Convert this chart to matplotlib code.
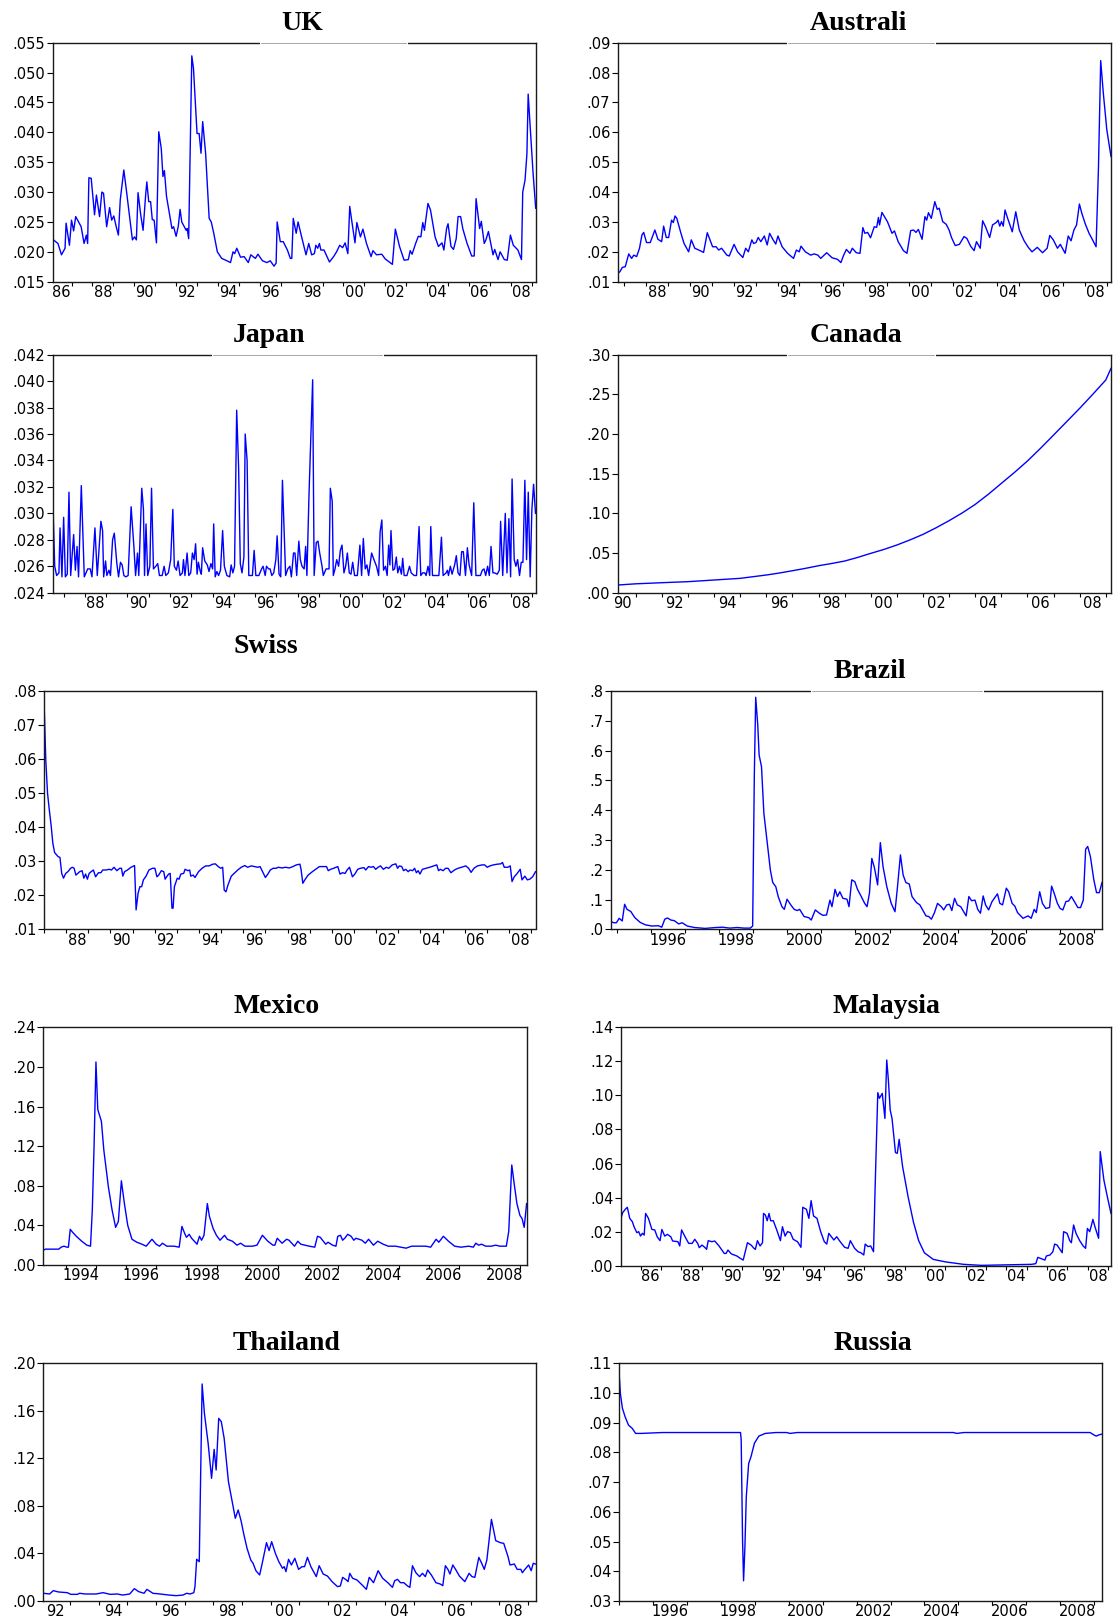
import numpy as np
import matplotlib
matplotlib.use("Agg")
from matplotlib import pyplot as plt

W, H = 1113, 1622

# ---- data (decimal year, value) ----
uk_t = [1986.10, 1986.35, 1986.52, 1986.69, 1986.74, 1986.90, 1987.00, 1987.10, 1987.20, 1987.46,
        1987.60, 1987.71, 1987.77, 1987.83, 1987.94, 1988.10, 1988.19, 1988.34, 1988.45, 1988.53,
        1988.68, 1988.82, 1988.92, 1989.02, 1989.13, 1989.24, 1989.33, 1989.50, 1989.64, 1989.91,
        1990.01, 1990.10, 1990.18, 1990.30, 1990.42, 1990.55, 1990.60, 1990.69, 1990.78, 1990.86,
        1990.95, 1991.06, 1991.17, 1991.29, 1991.37, 1991.44, 1991.54, 1991.68, 1991.80, 1991.88,
        1992.00, 1992.10, 1992.19, 1992.27, 1992.39, 1992.48, 1992.53, 1992.60, 1992.75, 1992.83,
        1993.00, 1993.10, 1993.19, 1993.27, 1993.41, 1993.58, 1993.68, 1993.80, 1993.97, 1994.18,
        1994.43, 1994.60, 1994.72, 1994.80, 1994.90, 1995.08, 1995.25, 1995.45, 1995.57, 1995.79,
        1995.91, 1996.13, 1996.34, 1996.50, 1996.68, 1996.78, 1996.83, 1996.98, 1997.12, 1997.32,
        1997.46, 1997.53, 1997.60, 1997.74, 1997.83, 1998.00, 1998.21, 1998.34, 1998.48, 1998.61,
        1998.68, 1998.77, 1998.85, 1998.92, 1999.07, 1999.33, 1999.53, 1999.67, 1999.82, 1999.96,
        2000.08, 2000.21, 2000.30, 2000.38, 2000.55, 2000.64, 2000.81, 2000.93, 2001.10, 2001.32,
        2001.41, 2001.58, 2001.83, 2002.00, 2002.34, 2002.48, 2002.68, 2002.90, 2003.10, 2003.19,
        2003.28, 2003.45, 2003.58, 2003.70, 2003.79, 2003.87, 2004.04, 2004.16, 2004.38, 2004.54,
        2004.71, 2004.80, 2004.93, 2005.00, 2005.14, 2005.26, 2005.39, 2005.48, 2005.60, 2005.71,
        2005.91, 2006.13, 2006.25, 2006.34, 2006.51, 2006.59, 2006.73, 2006.81, 2006.93, 2007.15,
        2007.23, 2007.39, 2007.49, 2007.69, 2007.83, 2007.98, 2008.12, 2008.34, 2008.51, 2008.57,
        2008.68, 2008.77, 2008.83, 2009.06, 2009.19]
uk_v = [.0221, .0214, .0195, .0206, .0248, .0211, .0253, .0235, .0259, .0242,
        .0214, .0228, .0214, .0324, .0323, .0262, .0295, .0259, .0300, .0298,
        .0242, .0274, .0253, .0260, .0243, .0228, .0287, .0337, .0298, .0220,
        .0225, .0220, .0299, .0264, .0236, .0298, .0317, .0284, .0284, .0254,
        .0253, .0215, .0401, .0373, .0326, .0336, .0293, .0264, .0239, .0242,
        .0226, .0242, .0271, .0250, .0242, .0236, .0239, .0222, .0528, .0507,
        .0398, .0398, .0365, .0418, .0365, .0256, .0250, .0231, .0200, .0189,
        .0185, .0182, .0200, .0197, .0206, .0191, .0192, .0182, .0195, .0189,
        .0196, .0185, .0182, .0185, .0176, .0181, .0250, .0217, .0217, .0203,
        .0189, .0189, .0256, .0231, .0250, .0225, .0195, .0214, .0195, .0197,
        .0211, .0206, .0214, .0203, .0203, .0183, .0192, .0200, .0211, .0207,
        .0215, .0197, .0276, .0256, .0215, .0249, .0225, .0238, .0214, .0192,
        .0202, .0195, .0196, .0188, .0179, .0238, .0209, .0186, .0187, .0202,
        .0196, .0214, .0226, .0225, .0249, .0236, .0281, .0270, .0225, .0209,
        .0215, .0203, .0239, .0247, .0209, .0204, .0222, .0259, .0259, .0238,
        .0214, .0193, .0193, .0289, .0239, .0251, .0214, .0220, .0234, .0195,
        .0204, .0187, .0200, .0187, .0186, .0228, .0211, .0203, .0187, .0300,
        .0320, .0364, .0464, .0334, .0273]

au_t = [1986.73, 1986.81, 1986.93, 1987.06, 1987.22, 1987.35, 1987.45, 1987.58, 1987.71, 1987.82,
        1987.90, 1988.03, 1988.20, 1988.41, 1988.55, 1988.72, 1988.81, 1988.93, 1989.04, 1989.17,
        1989.25, 1989.33, 1989.41, 1989.58, 1989.74, 1989.95, 1990.07, 1990.23, 1990.47, 1990.63,
        1990.80, 1991.04, 1991.20, 1991.32, 1991.45, 1991.69, 1991.80, 1992.02, 1992.18, 1992.42,
        1992.55, 1992.67, 1992.83, 1992.91, 1993.02, 1993.12, 1993.24, 1993.40, 1993.53, 1993.64,
        1993.80, 1993.92, 1994.02, 1994.21, 1994.46, 1994.73, 1994.86, 1994.99, 1995.07, 1995.27,
        1995.51, 1995.67, 1995.84, 1995.97, 1996.24, 1996.49, 1996.73, 1996.89, 1997.01, 1997.14,
        1997.30, 1997.41, 1997.59, 1997.76, 1997.89, 1997.98, 1998.11, 1998.24, 1998.41, 1998.52,
        1998.60, 1998.65, 1998.76, 1999.01, 1999.22, 1999.33, 1999.50, 1999.74, 1999.90, 2000.07,
        2000.20, 2000.31, 2000.42, 2000.59, 2000.72, 2000.80, 2000.88, 2001.01, 2001.17, 2001.28,
        2001.37, 2001.53, 2001.69, 2001.82, 2001.93, 2002.10, 2002.29, 2002.50, 2002.63, 2002.80,
        2002.96, 2003.07, 2003.24, 2003.35, 2003.48, 2003.67, 2003.80, 2003.97, 2004.05, 2004.13,
        2004.21, 2004.29, 2004.37, 2004.49, 2004.70, 2004.86, 2005.02, 2005.24, 2005.43, 2005.60,
        2005.84, 2006.08, 2006.29, 2006.41, 2006.57, 2006.76, 2006.89, 2007.11, 2007.25, 2007.38,
        2007.51, 2007.63, 2007.76, 2007.87, 2008.03, 2008.20, 2008.36, 2008.52, 2008.63, 2008.73,
        2008.85, 2009.01, 2009.20]
au_v = [.0128, .0133, .0148, .0150, .0193, .0178, .0189, .0184, .0212, .0256,
        .0265, .0231, .0231, .0273, .0242, .0234, .0286, .0248, .0248, .0306,
        .0298, .0320, .0312, .0267, .0228, .0200, .0240, .0212, .0204, .0198,
        .0264, .0217, .0217, .0206, .0212, .0189, .0186, .0225, .0200, .0181,
        .0212, .0200, .0240, .0228, .0231, .0248, .0234, .0253, .0223, .0262,
        .0240, .0226, .0253, .0217, .0195, .0178, .0206, .0200, .0219, .0200,
        .0189, .0193, .0189, .0178, .0197, .0180, .0175, .0164, .0188, .0208,
        .0195, .0212, .0197, .0195, .0281, .0262, .0265, .0247, .0284, .0282,
        .0315, .0290, .0332, .0301, .0262, .0270, .0234, .0204, .0195, .0271,
        .0273, .0265, .0275, .0242, .0318, .0306, .0331, .0312, .0368, .0342,
        .0346, .0301, .0292, .0273, .0248, .0221, .0225, .0251, .0245, .0219,
        .0204, .0234, .0212, .0304, .0284, .0248, .0290, .0298, .0306, .0286,
        .0301, .0286, .0340, .0312, .0267, .0334, .0273, .0237, .0215, .0200,
        .0215, .0197, .0212, .0255, .0240, .0212, .0225, .0195, .0253, .0237,
        .0273, .0290, .0360, .0329, .0293, .0262, .0240, .0217, .0485, .0840,
        .0731, .0608, .0519]

jp_t = [1986.50, 1986.58, 1986.67, 1986.78, 1986.83, 1986.92, 1987.00, 1987.08, 1987.17, 1987.25,
        1987.33, 1987.47, 1987.55, 1987.63, 1987.70, 1987.83, 1987.97, 1988.13, 1988.25, 1988.33,
        1988.47, 1988.58, 1988.75, 1988.83, 1988.88, 1988.97, 1989.03, 1989.13, 1989.20, 1989.30,
        1989.38, 1989.50, 1989.58, 1989.67, 1989.75, 1989.83, 1989.92, 1990.03, 1990.17, 1990.30,
        1990.38, 1990.47, 1990.53, 1990.67, 1990.75, 1990.80, 1990.87, 1990.95, 1991.05, 1991.13,
        1991.22, 1991.33, 1991.42, 1991.50, 1991.63, 1991.72, 1991.80, 1991.92, 1992.03, 1992.13,
        1992.20, 1992.30, 1992.38, 1992.47, 1992.58, 1992.63, 1992.70, 1992.80, 1992.88, 1992.97,
        1993.05, 1993.13, 1993.20, 1993.27, 1993.33, 1993.42, 1993.47, 1993.53, 1993.63, 1993.75,
        1993.83, 1993.92, 1994.00, 1994.05, 1994.12, 1994.20, 1994.28, 1994.37, 1994.47, 1994.55,
        1994.67, 1994.80, 1994.87, 1994.95, 1995.03, 1995.13, 1995.22, 1995.30, 1995.38, 1995.47,
        1995.53, 1995.62, 1995.70, 1995.80, 1995.87, 1995.95, 1996.03, 1996.17, 1996.30, 1996.37,
        1996.47, 1996.53, 1996.63, 1996.70, 1996.78, 1996.87, 1996.97, 1997.03, 1997.12, 1997.20,
        1997.28, 1997.37, 1997.43, 1997.53, 1997.63, 1997.70, 1997.80, 1997.87, 1997.95, 1998.05,
        1998.12, 1998.20, 1998.30, 1998.37, 1998.43, 1998.53, 1998.62, 1998.70, 1998.77, 1998.87,
        1998.95, 1999.03, 1999.13, 1999.20, 1999.33, 1999.47, 1999.53, 1999.62, 1999.67, 1999.75,
        1999.83, 1999.92, 2000.00, 2000.08, 2000.17, 2000.25, 2000.33, 2000.42, 2000.50, 2000.58,
        2000.67, 2000.80, 2000.92, 2001.00, 2001.08, 2001.17, 2001.25, 2001.33, 2001.47, 2001.58,
        2001.70, 2001.80, 2001.87, 2001.95, 2002.03, 2002.12, 2002.20, 2002.27, 2002.33, 2002.38,
        2002.47, 2002.55, 2002.63, 2002.70, 2002.78, 2002.87, 2002.93, 2003.00, 2003.13, 2003.25,
        2003.33, 2003.47, 2003.58, 2003.70, 2003.78, 2003.87, 2003.97, 2004.03, 2004.12, 2004.20,
        2004.25, 2004.33, 2004.43, 2004.53, 2004.63, 2004.75, 2004.83, 2004.97, 2005.03, 2005.08,
        2005.17, 2005.25, 2005.37, 2005.45, 2005.53, 2005.62, 2005.70, 2005.78, 2005.88, 2005.97,
        2006.05, 2006.17, 2006.27, 2006.37, 2006.47, 2006.58, 2006.67, 2006.75, 2006.83, 2006.92,
        2007.00, 2007.08, 2007.17, 2007.25, 2007.37, 2007.47, 2007.53, 2007.63, 2007.75, 2007.83,
        2007.92, 2008.00, 2008.07, 2008.17, 2008.25, 2008.33, 2008.42, 2008.50, 2008.58, 2008.67,
        2008.75, 2008.83, 2008.92, 2009.00, 2009.08, 2009.17]
jp_v = [.0306, .0260, .0253, .0255, .0289, .0252, .0297, .0252, .0254, .0316,
        .0253, .0284, .0257, .0275, .0252, .0321, .0252, .0258, .0258, .0252,
        .0289, .0253, .0294, .0287, .0252, .0264, .0253, .0257, .0253, .0280,
        .0285, .0262, .0252, .0263, .0261, .0253, .0252, .0253, .0305, .0275,
        .0253, .0270, .0253, .0319, .0303, .0253, .0292, .0253, .0260, .0319,
        .0258, .0260, .0262, .0253, .0253, .0260, .0253, .0255, .0265, .0303,
        .0260, .0257, .0264, .0253, .0255, .0265, .0253, .0270, .0253, .0255,
        .0270, .0265, .0277, .0254, .0263, .0256, .0254, .0274, .0264, .0261,
        .0256, .0262, .0258, .0292, .0252, .0256, .0253, .0257, .0287, .0260,
        .0253, .0252, .0261, .0255, .0260, .0378, .0335, .0262, .0255, .0267,
        .0360, .0340, .0253, .0253, .0253, .0272, .0253, .0253, .0258, .0260,
        .0253, .0260, .0258, .0258, .0253, .0255, .0265, .0283, .0254, .0252,
        .0325, .0282, .0253, .0258, .0260, .0252, .0270, .0270, .0253, .0279,
        .0265, .0260, .0258, .0275, .0253, .0315, .0360, .0401, .0253, .0278,
        .0279, .0270, .0261, .0253, .0258, .0258, .0319, .0309, .0253, .0258,
        .0265, .0260, .0272, .0276, .0255, .0260, .0270, .0255, .0254, .0263,
        .0253, .0253, .0276, .0253, .0281, .0258, .0261, .0253, .0270, .0265,
        .0260, .0253, .0286, .0295, .0257, .0260, .0253, .0276, .0261, .0287,
        .0257, .0258, .0267, .0255, .0260, .0254, .0266, .0253, .0253, .0260,
        .0255, .0253, .0253, .0290, .0253, .0255, .0255, .0253, .0260, .0253,
        .0290, .0253, .0253, .0253, .0253, .0282, .0253, .0255, .0257, .0253,
        .0260, .0254, .0261, .0268, .0255, .0253, .0271, .0271, .0253, .0274,
        .0261, .0253, .0308, .0253, .0253, .0253, .0257, .0258, .0253, .0260,
        .0253, .0275, .0255, .0255, .0254, .0257, .0294, .0253, .0300, .0255,
        .0296, .0252, .0326, .0265, .0260, .0265, .0253, .0263, .0263, .0325,
        .0265, .0316, .0252, .0303, .0322, .0300]

ca_t = [1990.32, 1991.0, 1992.0, 1993.0, 1994.0, 1995.0, 1996.0, 1996.5, 1997.0, 1997.5,
        1998.0, 1998.5, 1999.0, 1999.5, 2000.0, 2000.5, 2001.0, 2001.5, 2002.0, 2002.5,
        2003.0, 2003.5, 2004.0, 2004.5, 2005.0, 2005.5, 2006.0, 2006.5, 2007.0, 2007.5,
        2008.0, 2008.5, 2009.0, 2009.2]
ca_v = [.0097, .0112, .0126, .0139, .0160, .0181, .0223, .0248, .0277, .0307,
        .0340, .0368, .0399, .0445, .0496, .0545, .0601, .0665, .0735, .0818,
        .0908, .1005, .1113, .1240, .1378, .1515, .1660, .1820, .1987, .2155,
        .2324, .2500, .2681, .2828]

sw_t = [1987.00, 1987.08, 1987.16, 1987.24, 1987.32, 1987.40, 1987.48, 1987.64, 1987.72, 1987.80,
        1987.88, 1987.98, 1988.08, 1988.20, 1988.28, 1988.36, 1988.44, 1988.61, 1988.72, 1988.80,
        1988.88, 1988.96, 1989.04, 1989.13, 1989.23, 1989.33, 1989.46, 1989.57, 1989.65, 1989.81,
        1989.94, 1990.05, 1990.16, 1990.29, 1990.42, 1990.50, 1990.56, 1990.64, 1990.77, 1990.93,
        1991.09, 1991.16, 1991.25, 1991.33, 1991.41, 1991.49, 1991.61, 1991.74, 1991.90, 1992.01,
        1992.10, 1992.18, 1992.30, 1992.41, 1992.47, 1992.54, 1992.63, 1992.70, 1992.78, 1992.83,
        1992.89, 1993.02, 1993.10, 1993.18, 1993.31, 1993.37, 1993.50, 1993.58, 1993.63, 1993.74,
        1993.82, 1993.98, 1994.14, 1994.30, 1994.46, 1994.62, 1994.74, 1994.87, 1994.98, 1995.07,
        1995.14, 1995.22, 1995.31, 1995.46, 1995.59, 1995.75, 1995.91, 1996.07, 1996.20, 1996.36,
        1996.52, 1996.66, 1996.76, 1996.87, 1997.00, 1997.11, 1997.22, 1997.35, 1997.48, 1997.59,
        1997.75, 1997.91, 1998.08, 1998.24, 1998.40, 1998.56, 1998.61, 1998.69, 1998.80, 1998.93,
        1999.12, 1999.33, 1999.44, 1999.63, 1999.76, 1999.84, 1999.95, 2000.08, 2000.19, 2000.27,
        2000.37, 2000.48, 2000.60, 2000.69, 2000.80, 2000.93, 2001.04, 2001.17, 2001.29, 2001.45,
        2001.53, 2001.66, 2001.77, 2001.88, 2001.98, 2002.09, 2002.20, 2002.33, 2002.46, 2002.57,
        2002.73, 2002.89, 2002.97, 2003.05, 2003.16, 2003.24, 2003.34, 2003.45, 2003.53, 2003.65,
        2003.74, 2003.82, 2003.90, 2003.98, 2004.09, 2004.26, 2004.42, 2004.61, 2004.74, 2004.82,
        2004.90, 2005.03, 2005.14, 2005.25, 2005.38, 2005.54, 2005.70, 2005.86, 2006.05, 2006.18,
        2006.29, 2006.42, 2006.58, 2006.79, 2006.90, 2007.02, 2007.14, 2007.30, 2007.47, 2007.63,
        2007.71, 2007.79, 2007.95, 2008.06, 2008.14, 2008.24, 2008.35, 2008.51, 2008.59, 2008.72,
        2008.83, 2008.94, 2009.07, 2009.20]
sw_v = [.0773, .0597, .0499, .0450, .0406, .0352, .0325, .0313, .0311, .0264,
        .0250, .0264, .0269, .0279, .0282, .0279, .0259, .0269, .0272, .0250,
        .0262, .0247, .0264, .0269, .0274, .0254, .0266, .0266, .0274, .0274,
        .0276, .0274, .0282, .0272, .0279, .0279, .0256, .0269, .0274, .0282,
        .0287, .0157, .0206, .0225, .0225, .0245, .0256, .0274, .0279, .0279,
        .0254, .0259, .0272, .0269, .0247, .0254, .0262, .0264, .0162, .0162,
        .0225, .0250, .0247, .0262, .0264, .0276, .0272, .0274, .0256, .0259,
        .0252, .0269, .0279, .0286, .0286, .0291, .0292, .0284, .0279, .0282,
        .0215, .0210, .0230, .0256, .0264, .0274, .0282, .0287, .0282, .0286,
        .0284, .0282, .0284, .0269, .0252, .0262, .0274, .0279, .0279, .0282,
        .0280, .0282, .0280, .0284, .0289, .0291, .0276, .0235, .0247, .0259,
        .0269, .0279, .0284, .0284, .0284, .0272, .0276, .0279, .0282, .0284,
        .0262, .0266, .0264, .0274, .0282, .0254, .0262, .0276, .0279, .0281,
        .0274, .0284, .0282, .0284, .0276, .0282, .0286, .0276, .0282, .0279,
        .0289, .0292, .0279, .0286, .0284, .0272, .0276, .0269, .0274, .0272,
        .0279, .0266, .0272, .0262, .0276, .0279, .0282, .0286, .0289, .0272,
        .0276, .0272, .0279, .0279, .0266, .0274, .0279, .0282, .0286, .0279,
        .0267, .0279, .0286, .0289, .0289, .0282, .0286, .0289, .0291, .0292,
        .0296, .0282, .0282, .0286, .0240, .0254, .0262, .0276, .0245, .0256,
        .0245, .0247, .0254, .0269]

br_t = [1994.82, 1994.90, 1994.98, 1995.06, 1995.15, 1995.22, 1995.29, 1995.40, 1995.52, 1995.68,
        1995.83, 1996.02, 1996.21, 1996.31, 1996.40, 1996.48, 1996.58, 1996.68, 1996.81, 1996.91,
        1997.06, 1997.27, 1997.58, 1997.90, 1998.10, 1998.31, 1998.52, 1998.73, 1998.91, 1998.98,
        1999.03, 1999.07, 1999.13, 1999.17, 1999.24, 1999.31, 1999.42, 1999.50, 1999.57, 1999.66,
        1999.73, 1999.84, 1999.91, 1999.99, 2000.10, 2000.20, 2000.29, 2000.36, 2000.49, 2000.63,
        2000.70, 2000.82, 2000.94, 2001.04, 2001.15, 2001.25, 2001.31, 2001.40, 2001.47, 2001.54,
        2001.63, 2001.75, 2001.81, 2001.89, 2001.98, 2002.06, 2002.17, 2002.27, 2002.34, 2002.41,
        2002.48, 2002.56, 2002.65, 2002.73, 2002.81, 2002.92, 2003.05, 2003.16, 2003.23, 2003.32,
        2003.40, 2003.48, 2003.58, 2003.66, 2003.79, 2003.89, 2004.07, 2004.15, 2004.23, 2004.32,
        2004.41, 2004.52, 2004.59, 2004.68, 2004.76, 2004.83, 2004.91, 2004.99, 2005.09, 2005.25,
        2005.33, 2005.41, 2005.51, 2005.59, 2005.67, 2005.75, 2005.82, 2005.91, 2006.01, 2006.17,
        2006.24, 2006.32, 2006.43, 2006.50, 2006.60, 2006.68, 2006.76, 2006.92, 2007.07, 2007.16,
        2007.25, 2007.31, 2007.41, 2007.49, 2007.59, 2007.70, 2007.76, 2007.83, 2007.93, 2008.01,
        2008.09, 2008.18, 2008.26, 2008.34, 2008.43, 2008.53, 2008.61, 2008.69, 2008.76, 2008.82,
        2008.90, 2009.00, 2009.08, 2009.16, 2009.24]
br_v = [.026, .022, .022, .037, .028, .084, .067, .060, .039, .023,
        .015, .011, .012, .007, .034, .038, .031, .029, .018, .022,
        .011, .006, .003, .006, .007, .004, .006, .004, .004, .011,
        .524, .779, .686, .585, .546, .389, .278, .199, .157, .143,
        .110, .076, .067, .101, .082, .067, .063, .067, .043, .039,
        .031, .065, .054, .047, .048, .098, .076, .134, .110, .126,
        .104, .101, .076, .166, .160, .134, .110, .087, .076, .121,
        .238, .205, .149, .291, .210, .143, .087, .059, .138, .250,
        .182, .157, .152, .110, .090, .082, .045, .043, .034, .056,
        .087, .076, .065, .082, .084, .063, .104, .082, .076, .045,
        .110, .096, .098, .067, .054, .112, .082, .065, .093, .119,
        .087, .082, .138, .126, .087, .078, .056, .037, .045, .037,
        .067, .056, .126, .087, .070, .073, .145, .123, .087, .070,
        .065, .093, .095, .110, .093, .073, .073, .098, .269, .278,
        .244, .166, .123, .123, .157]

mx_t = [1993.26, 1993.33, 1993.77, 1993.85, 1993.94, 1994.04, 1994.09, 1994.15, 1994.23, 1994.35,
        1994.53, 1994.70, 1994.82, 1994.88, 1994.94, 1995.00, 1995.06, 1995.10, 1995.18, 1995.26,
        1995.41, 1995.53, 1995.65, 1995.74, 1995.84, 1995.94, 1996.05, 1996.19, 1996.35, 1996.52,
        1996.66, 1996.85, 1996.99, 1997.10, 1997.20, 1997.34, 1997.58, 1997.75, 1997.84, 1997.93,
        1997.99, 1998.08, 1998.16, 1998.34, 1998.42, 1998.49, 1998.57, 1998.68, 1998.75, 1998.87,
        1998.98, 1999.10, 1999.25, 1999.34, 1999.51, 1999.66, 1999.78, 1999.92, 2000.03, 2000.17,
        2000.32, 2000.50, 2000.68, 2000.85, 2000.91, 2000.99, 2001.15, 2001.30, 2001.38, 2001.56,
        2001.67, 2001.77, 2001.91, 2002.05, 2002.23, 2002.32, 2002.41, 2002.59, 2002.67, 2002.82,
        2002.93, 2002.99, 2003.08, 2003.15, 2003.22, 2003.32, 2003.43, 2003.52, 2003.59, 2003.79,
        2003.90, 2004.01, 2004.17, 2004.31, 2004.49, 2004.66, 2004.90, 2005.07, 2005.25, 2005.43,
        2005.66, 2005.90, 2006.06, 2006.24, 2006.33, 2006.48, 2006.65, 2006.85, 2007.06, 2007.32,
        2007.47, 2007.55, 2007.65, 2007.74, 2007.88, 2008.06, 2008.21, 2008.35, 2008.56, 2008.64,
        2008.74, 2008.82, 2008.91, 2009.01, 2009.08, 2009.15, 2009.23]
mx_v = [.015, .016, .016, .018, .019, .018, .018, .036, .033, .029,
        .024, .020, .019, .056, .123, .205, .157, .153, .145, .116,
        .079, .056, .038, .044, .085, .062, .040, .026, .023, .021,
        .019, .026, .021, .019, .022, .019, .019, .018, .039, .032,
        .028, .031, .027, .021, .029, .025, .030, .062, .049, .037,
        .030, .025, .030, .026, .024, .020, .022, .019, .019, .019,
        .020, .030, .024, .020, .020, .027, .022, .026, .025, .019,
        .024, .021, .020, .019, .018, .029, .028, .021, .023, .020,
        .019, .029, .030, .025, .027, .031, .029, .025, .027, .025,
        .022, .026, .020, .024, .021, .019, .019, .018, .017, .019,
        .019, .019, .018, .026, .023, .029, .024, .019, .018, .019,
        .018, .022, .020, .021, .019, .019, .020, .019, .019, .034,
        .101, .082, .062, .050, .047, .038, .062]

my_t = [1985.04, 1985.12, 1985.25, 1985.35, 1985.47, 1985.60, 1985.68, 1985.82, 1985.91, 1986.00,
        1986.09, 1986.18, 1986.25, 1986.39, 1986.56, 1986.70, 1986.82, 1986.96, 1987.05, 1987.19,
        1987.32, 1987.49, 1987.58, 1987.84, 1987.93, 1988.02, 1988.19, 1988.37, 1988.54, 1988.67,
        1988.81, 1988.89, 1989.02, 1989.16, 1989.25, 1989.33, 1989.51, 1989.65, 1989.86, 1990.12,
        1990.21, 1990.30, 1990.47, 1990.74, 1990.91, 1991.05, 1991.26, 1991.44, 1991.58, 1991.65,
        1991.75, 1991.88, 1992.00, 1992.05, 1992.14, 1992.23, 1992.32, 1992.40, 1992.53, 1992.70,
        1992.88, 1992.98, 1993.11, 1993.23, 1993.37, 1993.51, 1993.72, 1993.89, 1993.98, 1994.16,
        1994.28, 1994.39, 1994.51, 1994.68, 1994.86, 1995.04, 1995.16, 1995.26, 1995.39, 1995.51,
        1995.65, 1995.82, 1996.04, 1996.21, 1996.32, 1996.53, 1996.70, 1996.84, 1996.98, 1997.05,
        1997.19, 1997.32, 1997.46, 1997.54, 1997.67, 1997.75, 1997.89, 1998.02, 1998.11, 1998.19,
        1998.28, 1998.37, 1998.54, 1998.63, 1998.72, 1998.89, 1999.16, 1999.42, 1999.68, 1999.96,
        2000.40, 2001.02, 2001.89, 2002.77, 2005.23, 2005.44, 2005.54, 2005.72, 2005.89, 2005.96,
        2006.14, 2006.28, 2006.37, 2006.49, 2006.63, 2006.74, 2006.81, 2006.98, 2007.11, 2007.19,
        2007.30, 2007.42, 2007.60, 2007.77, 2007.89, 2007.98, 2008.09, 2008.16, 2008.25, 2008.35,
        2008.53, 2008.61, 2008.79, 2008.96, 2009.14]
my_v = [.0278, .0311, .0331, .0343, .0278, .0258, .0229, .0194, .0200, .0174,
        .0190, .0180, .0307, .0278, .0213, .0210, .0170, .0147, .0213, .0174,
        .0184, .0170, .0145, .0141, .0116, .0210, .0170, .0131, .0131, .0155,
        .0131, .0106, .0121, .0108, .0096, .0147, .0141, .0145, .0116, .0072,
        .0072, .0092, .0069, .0057, .0043, .0033, .0135, .0121, .0102, .0096,
        .0147, .0116, .0135, .0307, .0298, .0264, .0307, .0264, .0264, .0210,
        .0147, .0229, .0174, .0200, .0194, .0155, .0141, .0108, .0343, .0331,
        .0278, .0382, .0292, .0278, .0200, .0141, .0127, .0190, .0170, .0151,
        .0170, .0141, .0108, .0102, .0147, .0102, .0082, .0076, .0063, .0127,
        .0112, .0116, .0082, .0464, .1016, .0983, .1012, .0865, .1208, .1091,
        .0914, .0865, .0664, .0660, .0742, .0582, .0405, .0258, .0147, .0076,
        .0037, .0022, .0008, .0002, .0008, .0012, .0049, .0041, .0033, .0057,
        .0063, .0082, .0127, .0121, .0096, .0076, .0200, .0190, .0147, .0135,
        .0239, .0190, .0147, .0116, .0102, .0219, .0200, .0229, .0272, .0229,
        .0161, .0670, .0503, .0405, .0307]

th_t = [1992.06, 1992.28, 1992.41, 1992.59, 1992.90, 1993.02, 1993.25, 1993.33, 1993.52, 1993.90,
        1994.15, 1994.40, 1994.65, 1994.83, 1995.08, 1995.24, 1995.39, 1995.58, 1995.68, 1995.89,
        1996.14, 1996.45, 1996.70, 1996.94, 1997.07, 1997.19, 1997.32, 1997.36, 1997.42, 1997.51,
        1997.61, 1997.69, 1997.82, 1997.94, 1998.03, 1998.10, 1998.19, 1998.28, 1998.38, 1998.53,
        1998.65, 1998.77, 1998.87, 1998.97, 1999.06, 1999.18, 1999.31, 1999.39, 1999.49, 1999.62,
        1999.71, 1999.86, 1999.95, 2000.04, 2000.17, 2000.29, 2000.42, 2000.48, 2000.54, 2000.63,
        2000.73, 2000.85, 2000.98, 2001.10, 2001.19, 2001.29, 2001.41, 2001.60, 2001.70, 2001.84,
        2001.99, 2002.15, 2002.34, 2002.44, 2002.52, 2002.65, 2002.71, 2002.77, 2002.87, 2003.02,
        2003.20, 2003.35, 2003.45, 2003.60, 2003.76, 2003.92, 2004.10, 2004.26, 2004.34, 2004.44,
        2004.54, 2004.66, 2004.79, 2004.87, 2004.96, 2005.08, 2005.21, 2005.31, 2005.41, 2005.49,
        2005.62, 2005.78, 2005.93, 2006.02, 2006.11, 2006.20, 2006.27, 2006.37, 2006.48, 2006.60,
        2006.79, 2006.94, 2007.04, 2007.14, 2007.28, 2007.38, 2007.47, 2007.56, 2007.72, 2007.87,
        2008.03, 2008.15, 2008.30, 2008.37, 2008.52, 2008.62, 2008.75, 2008.80, 2008.89, 2009.02,
        2009.11, 2009.18, 2009.26]
th_v = [.0065, .0059, .0087, .0076, .0070, .0056, .0056, .0065, .0059, .0059,
        .0070, .0056, .0059, .0050, .0059, .0104, .0079, .0065, .0098, .0065,
        .0059, .0050, .0045, .0050, .0065, .0059, .0070, .0121, .0351, .0331,
        .1826, .1579, .1327, .1032, .1276, .1102, .1537, .1509, .1369, .1004,
        .0850, .0696, .0766, .0676, .0569, .0443, .0345, .0317, .0255, .0219,
        .0317, .0491, .0424, .0499, .0401, .0331, .0275, .0289, .0247, .0351,
        .0303, .0359, .0266, .0289, .0289, .0367, .0289, .0205, .0297, .0227,
        .0210, .0163, .0121, .0126, .0199, .0177, .0163, .0233, .0191, .0177,
        .0135, .0098, .0199, .0154, .0255, .0191, .0154, .0115, .0171, .0182,
        .0154, .0154, .0126, .0115, .0297, .0238, .0205, .0233, .0205, .0261,
        .0219, .0154, .0143, .0129, .0297, .0266, .0227, .0303, .0261, .0210,
        .0163, .0233, .0205, .0199, .0367, .0317, .0266, .0345, .0687, .0508,
        .0491, .0485, .0373, .0303, .0311, .0266, .0266, .0238, .0266, .0303,
        .0255, .0317, .0311]

ru_t = [1995.00, 1995.04, 1995.10, 1995.18, 1995.28, 1995.39, 1995.49, 1995.65, 1996.28, 1998.58,
        1998.60, 1998.64, 1998.67, 1998.71, 1998.75, 1998.82, 1998.89, 1998.99, 1999.12, 1999.31,
        1999.62, 1999.94, 2000.04, 2000.25, 2004.85, 2004.95, 2005.16, 2008.88, 2008.99, 2009.06,
        2009.14, 2009.23]
ru_v = [.1072, .0999, .0949, .0920, .0892, .0881, .0864, .0864, .0867, .0867,
        .0842, .0505, .0368, .0483, .0651, .0763, .0786, .0831, .0855, .0864,
        .0867, .0867, .0864, .0867, .0867, .0864, .0867, .0867, .0859, .0855,
        .0859, .0862]

plt.rcParams['font.family'] = 'DejaVu Sans'
fig = plt.figure(figsize=(W / 100, H / 100), dpi=100)


def panel(name, t, v, box, ylo, yhi, ystep, ndec, fullyear, tx, tbase, gap=None):
    L, R, T, B = box
    ax = fig.add_axes([L / W, 1 - B / H, (R - L) / W, (B - T) / H])
    ax.plot(t, v, color='#0000ff', lw=1.0)
    ax.set_xlim(t[0], t[-1])
    ax.set_ylim(ylo, yhi)
    yt = np.arange(ylo, yhi + ystep / 2, ystep)
    ax.set_yticks(yt)
    ax.set_yticklabels([('%.*f' % (ndec, y)).lstrip('0') for y in yt])
    years = np.arange(np.ceil(t[0]), np.floor(t[-1]) + 1)
    ax.set_xticks(years)
    ax.set_xticklabels([])
    labs = [y for y in range(1980, 2012, 2) if t[0] + 0.1 < y + 0.5 < t[-1]]
    ax.set_xticks([y + 0.5 for y in labs], minor=True)
    ax.set_xticklabels([str(y) if fullyear else str(y)[2:] for y in labs], minor=True)
    ax.tick_params(which='both', direction='out', labelsize=10.5, top=False, right=False)
    ax.tick_params(axis='y', length=4, width=0.8, pad=1.5)
    ax.tick_params(axis='x', which='major', length=3, width=0.8)
    ax.tick_params(axis='x', which='minor', length=0, pad=2.5)
    for s in ax.spines.values():
        s.set_linewidth(1.0)
        s.set_color('#1a1a1a')
    if gap:
        g0, g1 = (gap[0] - L) / (R - L), (gap[1] - L) / (R - L)
        ax.plot([g0, g1], [1, 1], transform=ax.transAxes, color='white', lw=2.2,
                clip_on=False, zorder=3)
        ax.plot([g0, g1], [1, 1], transform=ax.transAxes, color='#9a9a9a', lw=0.6,
                clip_on=False, zorder=3)
    fig.text(tx / W, 1 - tbase / H, name, ha='center', va='baseline', fontsize=20,
             fontweight='bold', family='Liberation Serif')
    return ax


panel('UK', uk_t, uk_v, (52.7, 535.7, 42.7, 281.7), .015, .055, .005, 3, False, 302, 30, (261, 406))
panel('Australi', au_t, au_v, (618, 1111, 42.7, 281.7), .01, .09, .01, 2, False, 858, 30, (788, 934))
panel('Japan', jp_t, jp_v, (53, 535.5, 354.7, 592.7), .024, .042, .002, 3, False, 269.5, 341.7, (213, 382))
panel('Canada', ca_t, ca_v, (618, 1111, 354.7, 592.7), 0, .30, .05, 2, False, 855.6, 341.7, (788, 934))
panel('Swiss', sw_t, sw_v, (44, 535.5, 690.7, 929.3), .01, .08, .01, 2, False, 266, 653.3)
panel('Brazil', br_t, br_v, (611, 1102, 691, 929.3), 0, .8, .1, 1, True, 869.8, 677.7, (812, 982))
panel('Mexico', mx_t, mx_v, (43.3, 526.6, 1027.3, 1265), 0, .24, .04, 2, True, 276.6, 1013.3)
panel('Malaysia', my_t, my_v, (621, 1111, 1027.3, 1265.7), 0, .14, .02, 2, False, 886.8, 1013.3)
panel('Thailand', th_t, th_v, (43.3, 535.5, 1363.3, 1601), 0, .20, .04, 2, False, 287, 1350)
panel('Russia', ru_t, ru_v, (619, 1102, 1363.3, 1601), .03, .11, .01, 2, True, 872.7, 1350)

fig.savefig('out.png', dpi=100)
